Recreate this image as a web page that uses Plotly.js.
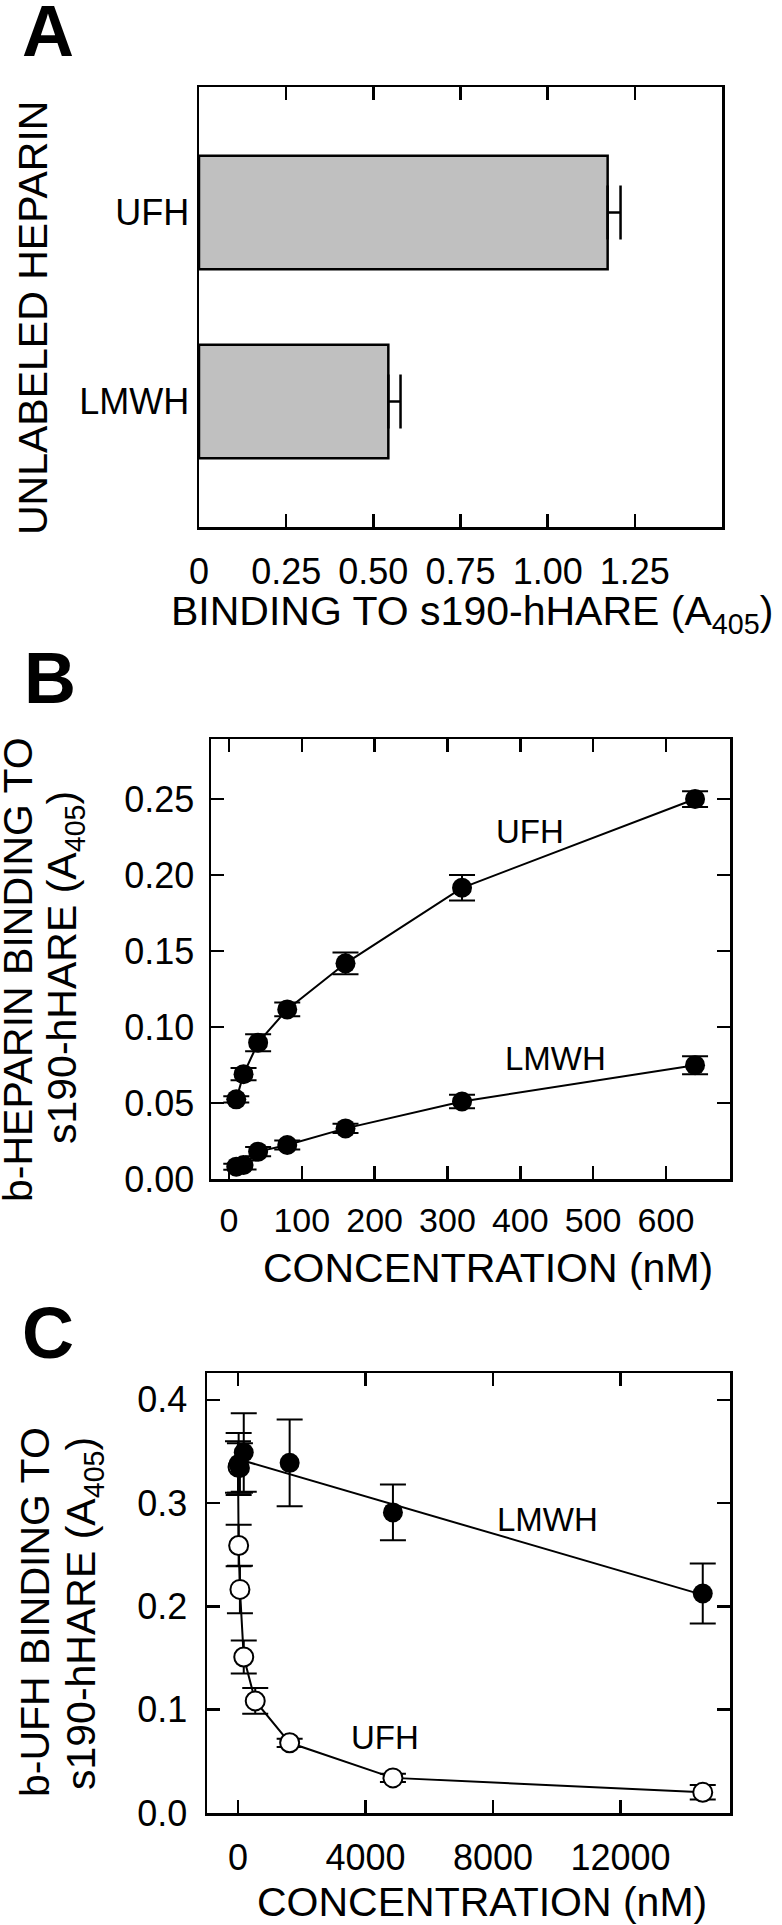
<!DOCTYPE html>
<html>
<head>
<meta charset="utf-8">
<script src="https://cdn.plot.ly/plotly-3.0.1.min.js"></script>
<style>
  html, body { margin: 0; padding: 0; background: #fff; }
  #chart { width: 782px; height: 1925px; }
</style>
</head>
<body>
<div id="chart"></div>
<script>
// ==== A: unlabeled heparin competition ====
const heparinTypes = ["UFH", "LMWH"];
const bindingA = [1.172, 0.543];
const bindingAErr = [0.037, 0.035];
const ticksA = [0, 0.25, 0.5, 0.75, 1.0, 1.25];
const tickTextA = ["0", "0.25", "0.50", "0.75", "1.00", "1.25"];

// ==== B: b-heparin binding vs concentration ====
const concB = [10, 20, 40, 80, 160, 320, 640];
const ufhB = [0.0524, 0.069, 0.0897, 0.1116, 0.1419, 0.1916, 0.25];
const ufhBErr = [0.002, 0.004, 0.0056, 0.0045, 0.0072, 0.0084, 0.0052];
const lmwhB = [0.0081, 0.0092, 0.018, 0.0224, 0.0333, 0.051, 0.0749];
const lmwhBErr = [0.002, 0.003, 0.003, 0.003, 0.003, 0.0045, 0.0059];

// ==== C: b-UFH binding vs competitor concentration ====
const concUfhC = [0, 20, 60, 180, 540, 1620, 4860, 14580];
const ufhC = [0.335, 0.259, 0.2165, 0.151, 0.1085, 0.068, 0.034, 0.02];
const ufhCErr = [0.025, 0.02, 0.023, 0.016, 0.0125, 0.004, 0.004, 0.007];
const concLmwhC = [20, 60, 180, 1620, 4860, 14580];
const lmwhC = [0.338, 0.334, 0.349, 0.339, 0.291, 0.2125];
const lmwhCErr = [0.03, 0.024, 0.038, 0.042, 0.027, 0.029];

const W = 782;
const H = 1925;
const px = (x) => x / W;
const py = (y) => 1 - y / H;
const FONT = "Liberation Sans, Arial, sans-serif";

// 直線回帰 (LMWH in C)
function linFit(xs, ys) {
  const n = xs.length;
  const mx = xs.reduce((a, b) => a + b, 0) / n;
  const my = ys.reduce((a, b) => a + b, 0) / n;
  let sxy = 0;
  let sxx = 0;
  for (let i = 0; i < n; i++) {
    sxy += (xs[i] - mx) * (ys[i] - my);
    sxx += (xs[i] - mx) ** 2;
  }
  const slope = sxy / sxx;
  return (x) => my + slope * (x - mx);
}
const fitC = linFit(concLmwhC, lmwhC);
const fitX = [Math.min(...concLmwhC), Math.max(...concLmwhC)];

const errStyle = (arr, w) => ({
  type: "data", array: arr, visible: true, color: "black", thickness: 2, width: w
});

const data = [
  {
    type: "bar", orientation: "h",
    x: bindingA, y: heparinTypes,
    width: 0.6,
    marker: { color: "#c0c0c0", line: { color: "black", width: 2.5 } },
    error_x: {
      type: "data", symmetric: false, array: bindingAErr, arrayminus: [0, 0],
      color: "black", thickness: 2.5, width: 27
    },
    xaxis: "x", yaxis: "y", showlegend: false
  },
  {
    type: "scatter", mode: "lines+markers",
    x: concB, y: ufhB, error_y: errStyle(ufhBErr, 13),
    line: { color: "black", width: 2 },
    marker: { color: "black", size: 20 },
    xaxis: "x2", yaxis: "y2", showlegend: false
  },
  {
    type: "scatter", mode: "lines+markers",
    x: concB, y: lmwhB, error_y: errStyle(lmwhBErr, 13),
    line: { color: "black", width: 2 },
    marker: { color: "black", size: 20 },
    xaxis: "x2", yaxis: "y2", showlegend: false
  },
  {
    type: "scatter", mode: "lines+markers",
    x: concUfhC, y: ufhC, error_y: errStyle(ufhCErr, 13),
    line: { color: "black", width: 2 },
    marker: { color: "white", size: 19, line: { color: "black", width: 2 } },
    xaxis: "x3", yaxis: "y3", showlegend: false
  },
  {
    type: "scatter", mode: "lines",
    x: fitX, y: fitX.map(fitC),
    line: { color: "black", width: 2 },
    xaxis: "x3", yaxis: "y3", showlegend: false
  },
  {
    type: "scatter", mode: "markers",
    x: concLmwhC, y: lmwhC, error_y: errStyle(lmwhCErr, 13),
    marker: { color: "black", size: 20 },
    xaxis: "x3", yaxis: "y3", showlegend: false
  }
];

const axisBase = {
  showline: true, linecolor: "black", linewidth: 2.5, mirror: "ticks",
  ticks: "inside", ticklen: 13, tickwidth: 2.5, tickcolor: "black",
  showgrid: false, zeroline: false,
  tickfont: { family: FONT, size: 36, color: "black" }
};

const layout = {
  width: W, height: H,
  margin: { l: 0, r: 0, t: 0, b: 0 },
  paper_bgcolor: "white", plot_bgcolor: "white",
  font: { family: FONT, color: "black" },
  xaxis: {
    ...axisBase, anchor: "y",
    domain: [px(199), px(722)], range: [0, 1.5],
    tickvals: ticksA, ticktext: tickTextA, ticklabelstandoff: 11
  },
  yaxis: {
    ...axisBase, anchor: "x", ticks: "", mirror: true,
    domain: [py(527), py(87)],
    type: "category", categoryorder: "array", categoryarray: heparinTypes,
    range: [1.664, -0.664], ticklabelstandoff: 0
  },
  xaxis2: {
    ...axisBase, anchor: "y2",
    domain: [px(211), px(730)], range: [-24.7, 688],
    tick0: 0, dtick: 100, ticklabelstandoff: 10,
    tickfont: { family: FONT, size: 34, color: "black" }
  },
  yaxis2: {
    ...axisBase, anchor: "x2",
    domain: [py(1179), py(739)], range: [0, 0.2895],
    tick0: 0, dtick: 0.05, tickformat: ".2f", ticklabelstandoff: 7
  },
  xaxis3: {
    ...axisBase, anchor: "y3",
    domain: [px(207), px(730)], range: [-973, 15435],
    tick0: 0, dtick: 4000, tickformat: "d", ticklabelstandoff: 11
  },
  yaxis3: {
    ...axisBase, anchor: "x3",
    domain: [py(1813), py(1373)], range: [0, 0.426],
    tick0: 0, dtick: 0.1, tickformat: ".1f", ticklabelstandoff: 10
  },
  annotations: []
};

function note(text, x, y, size, opts) {
  layout.annotations.push(Object.assign({
    text: text, x: x, y: y, xref: "paper", yref: "paper",
    xanchor: "center", yanchor: "middle", showarrow: false,
    font: { family: FONT, size: size, color: "black" }
  }, opts || {}));
}

// パネル記号
note("<b>A</b>", px(48), py(31), 72);
note("<b>B</b>", px(50), py(678), 72);
note("<b>C</b>", px(48), py(1333), 72);

// 軸タイトル
note("BINDING TO s190-hHARE (A<sub>405</sub>)", px(472), py(614), 41);
note("UNLABELED HEPARIN", px(33), py(318), 41, { textangle: -90 });

note("CONCENTRATION (nM)", px(488), py(1268), 41);
note("b-HEPARIN BINDING TO", px(18), py(970), 41, { textangle: -90 });
note("s190-hHARE (A<sub>405</sub>)", px(65), py(968), 41, { textangle: -90 });

note("CONCENTRATION (nM)", px(482), py(1902), 41);
note("b-UFH BINDING TO", px(35), py(1612), 41, { textangle: -90 });
note("s190-hHARE (A<sub>405</sub>)", px(84), py(1614), 41, { textangle: -90 });

// 曲線ラベル
note("UFH", 413, 0.2285, 33, { xref: "x2", yref: "y2" });
note("LMWH", 448, 0.0796, 33, { xref: "x2", yref: "y2" });
note("LMWH", 9710, 0.284, 33, { xref: "x3", yref: "y3" });
note("UFH", 4612, 0.073, 33, { xref: "x3", yref: "y3" });

Plotly.newPlot("chart", data, layout, { staticPlot: true, displayModeBar: false });
</script>
</body>
</html>
